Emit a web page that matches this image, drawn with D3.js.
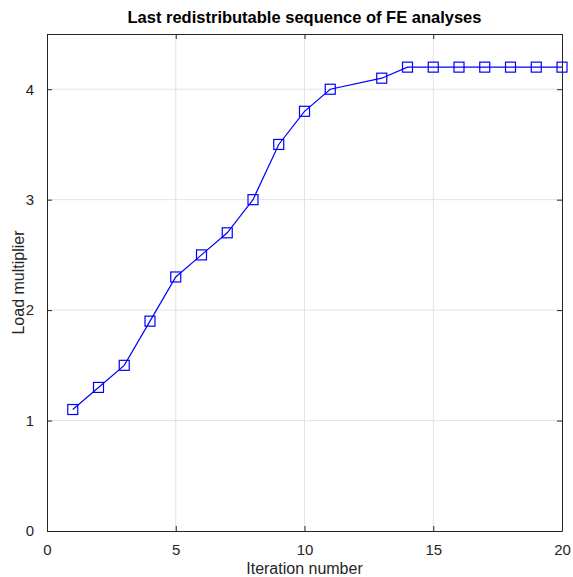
<!DOCTYPE html>
<html>
<head>
<meta charset="utf-8">
<script src="https://cdn.jsdelivr.net/npm/d3@7"></script>
<style>
  body { margin: 0; background: #fff; }
  text { font-family: "Liberation Sans", Arial, sans-serif; }
</style>
</head>
<body>
<svg width="573" height="577"></svg>
<script>
// data (iteration 12 is not plotted)
var iterations = [1, 2, 3, 4, 5, 6, 7, 8, 9, 10, 11, 13, 14, 15, 16, 17, 18, 19, 20];
var loadMult = [1.1, 1.3, 1.5, 1.9, 2.3, 2.5, 2.7, 3.0, 3.5, 3.8, 4.0, 4.1, 4.2, 4.2, 4.2, 4.2, 4.2, 4.2, 4.2];
var xTicks = [0, 5, 10, 15, 20];
var yTicks = [0, 1, 2, 3, 4];

var svg = d3.select("svg");
var pLeft = 47, pRight = 562, pTop = 34, pBottom = 531;

var x = d3.scaleLinear().domain([0, 20]).range([pLeft, pRight]);
var y = d3.scaleLinear().domain([0, 4.5]).range([pBottom, pTop]);

var data = iterations.map((d, i) => ({ it: d, v: loadMult[i] }));

// grid
svg.append("g").selectAll("line")
  .data(xTicks.slice(1, -1))
  .enter().append("line")
  .attr("x1", d => x(d)).attr("x2", d => x(d))
  .attr("y1", pTop).attr("y2", pBottom)
  .attr("stroke", "#e3e3e3").attr("stroke-width", 1);
svg.append("g").selectAll("line")
  .data(yTicks.slice(1))
  .enter().append("line")
  .attr("x1", pLeft).attr("x2", pRight)
  .attr("y1", d => y(d)).attr("y2", d => y(d))
  .attr("stroke", "#e3e3e3").attr("stroke-width", 1);

// axes (ticks inside, box on)
var xAxis = svg.append("g").attr("transform", `translate(0,${pBottom})`)
  .call(d3.axisBottom(x).tickValues(xTicks).tickFormat(d3.format("d"))
    .tickSizeInner(-5).tickSizeOuter(0).tickPadding(13));
var yAxis = svg.append("g").attr("transform", `translate(${pLeft},0)`)
  .call(d3.axisLeft(y).tickValues(yTicks).tickFormat(d3.format("d"))
    .tickSizeInner(-5).tickSizeOuter(0).tickPadding(13));
var xTop = svg.append("g").attr("transform", `translate(0,${pTop})`)
  .call(d3.axisTop(x).tickValues(xTicks).tickSizeInner(-5).tickSizeOuter(0).tickFormat(""));
var yRight = svg.append("g").attr("transform", `translate(${pRight},0)`)
  .call(d3.axisRight(y).tickValues(yTicks).tickSizeInner(-5).tickSizeOuter(0).tickFormat(""));

[xAxis, yAxis, xTop, yRight].forEach(a => {
  a.select(".domain").attr("stroke", "#262626");
  a.selectAll(".tick line").attr("stroke", "#262626");
  a.selectAll(".tick text").attr("fill", "#262626").style("font-size", "15px");
});

// line and markers
var line = d3.line().x(d => x(d.it)).y(d => y(d.v));
svg.append("path")
  .datum(data)
  .attr("fill", "none")
  .attr("stroke", "#0000ff")
  .attr("stroke-width", 1.2)
  .attr("d", line);

var ms = 10;
svg.append("g").selectAll("rect")
  .data(data)
  .enter().append("rect")
  .attr("x", d => x(d.it) - ms / 2)
  .attr("y", d => y(d.v) - ms / 2)
  .attr("width", ms).attr("height", ms)
  .attr("fill", "none")
  .attr("stroke", "#0000ff")
  .attr("stroke-width", 1.2);

// labels
svg.append("text")
  .attr("x", (pLeft + pRight) / 2).attr("y", 23)
  .attr("text-anchor", "middle")
  .style("font-size", "16.5px").style("font-weight", "bold")
  .attr("fill", "#000")
  .text("Last redistributable sequence of FE analyses");

svg.append("text")
  .attr("x", (pLeft + pRight) / 2).attr("y", 574)
  .attr("text-anchor", "middle")
  .style("font-size", "16px")
  .attr("fill", "#262626")
  .text("Iteration number");

svg.append("text")
  .attr("transform", `translate(24,${(pTop + pBottom) / 2}) rotate(-90)`)
  .attr("text-anchor", "middle")
  .style("font-size", "16px")
  .attr("fill", "#262626")
  .text("Load multiplier");
</script>
</body>
</html>
